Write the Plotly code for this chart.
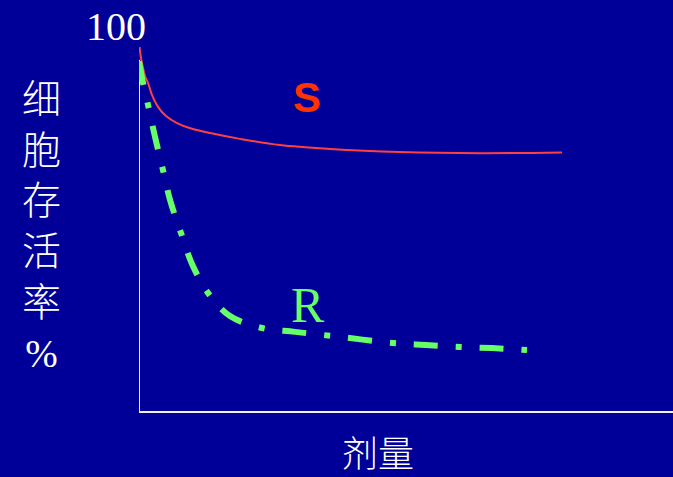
import plotly.graph_objects as go

# Data (dose in arbitrary units, survival in %)
s_dose = [0.01, 0.037, 0.075, 0.112, 0.169, 0.243, 0.356, 0.506, 0.712, 0.993,
          1.33, 1.891, 2.64, 3.577, 4.888, 6.386, 7.921]
s_surv = [94.3, 91.5, 88.9, 86.8, 85.0, 81.9, 78.8, 76.4, 74.6, 73.1,
          72.0, 70.5, 68.9, 67.9, 67.1, 66.8, 67.0]

r_dose = [0.0, 0.075, 0.169, 0.300, 0.449, 0.581, 0.787, 0.993, 1.292, 1.704,
          2.303, 2.921, 3.764, 4.757, 5.375, 5.993, 6.610, 7.266]
r_surv = [90.6, 85.0, 79.3, 71.0, 62.4, 54.7, 46.1, 38.1, 30.6, 24.6,
          21.5, 20.5, 19.2, 17.6, 17.1, 16.6, 16.3, 15.8]

y_top_label = "100"
y_title = "细<br>胞<br>存<br>活<br>率<br>%"
x_title = "剂量"
s_label = "S"
r_label = "R"

BG = "#000099"

fig = go.Figure()
fig.add_trace(go.Scatter(x=s_dose, y=s_surv, mode="lines",
                         line=dict(color="#FF4040", width=2, shape="spline"),
                         hoverinfo="skip", showlegend=False))
fig.add_trace(go.Scatter(x=r_dose, y=r_surv, mode="lines",
                         line=dict(color="#66FF66", width=6, shape="spline",
                                   dash="24px,18px,6px,18px"),
                         hoverinfo="skip", showlegend=False))

# y-axis line
fig.add_shape(type="line", xref="x", yref="y", x0=0, x1=0, y0=0, y1=91,
              line=dict(color="#F0F0F8", width=2), layer="below")

def ann(x, y, text, font):
    fig.add_annotation(xref="paper", yref="paper", x=x, y=y, text=text,
                       showarrow=False, xanchor="center", yanchor="middle",
                       align="center", font=font)

ann(-0.043, 0.997, y_top_label,
    dict(family="Liberation Serif", size=40, color="white"))
ann(-0.1835, 0.478, y_title,
    dict(family="Liberation Serif, Noto Sans CJK SC", size=39, color="white", weight=300))
ann(0.4476, -0.103, x_title,
    dict(family="Noto Sans CJK SC", size=36, color="white", weight=300))
ann(0.3146, 0.813, "<b>" + s_label + "</b>",
    dict(family="Liberation Sans", size=42, color="#FF3300"))
ann(0.316, 0.275, r_label,
    dict(family="Liberation Serif", size=50, color="#66FF66"))

fig.update_layout(
    width=673, height=477,
    margin=dict(l=139, r=0, t=25, b=66),
    paper_bgcolor=BG, plot_bgcolor=BG,
    xaxis=dict(range=[0, 10], showgrid=False, zeroline=False, showticklabels=False,
               ticks="", showline=True, linecolor="#F0F0F8", linewidth=2, fixedrange=True),
    yaxis=dict(range=[0, 100], showgrid=False, zeroline=False, showticklabels=False,
               ticks="", showline=False, fixedrange=True),
)

fig.write_html("out.html", config={"displayModeBar": False, "staticPlot": True})

# remove default page margin so the figure fills the window
with open("out.html", "r", encoding="utf-8") as f:
    html = f.read()
html = html.replace("<head>", "<head><style>html,body{margin:0;padding:0;overflow:hidden;background:#000099;}</style>", 1)
with open("out.html", "w", encoding="utf-8") as f:
    f.write(html)
